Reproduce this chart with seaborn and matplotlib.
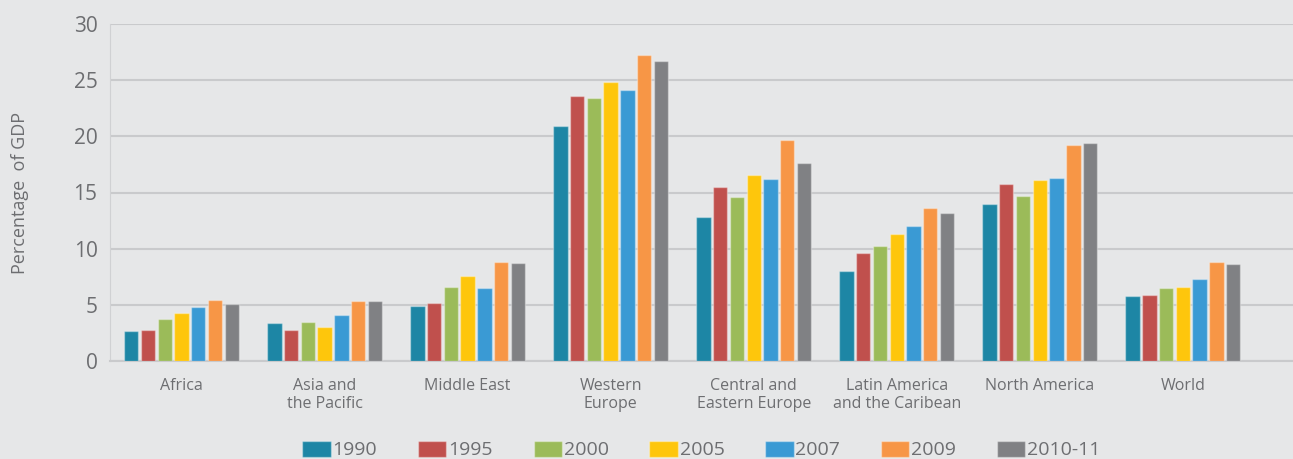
import pandas as pd
import matplotlib.pyplot as plt
import seaborn as sns

# Valori (percentuale del PIL)
regions = ["Africa", "Asia and\nthe Pacific", "Middle East", "Western\nEurope",
           "Central and\nEastern Europe", "Latin America\nand the Caribean",
           "North America", "World"]
years = ["1990", "1995", "2000", "2005", "2007", "2009", "2010-11"]

v1990 = [2.7, 3.4, 4.9, 20.9, 12.8, 8.0, 14.0, 5.8]
v1995 = [2.8, 2.8, 5.2, 23.6, 15.5, 9.6, 15.8, 5.9]
v2000 = [3.7, 3.5, 6.6, 23.4, 14.6, 10.2, 14.7, 6.5]
v2005 = [4.3, 3.0, 7.6, 24.8, 16.6, 11.3, 16.1, 6.6]
v2007 = [4.8, 4.1, 6.5, 24.1, 16.2, 12.0, 16.3, 7.3]
v2009 = [5.4, 5.3, 8.8, 27.2, 19.7, 13.6, 19.2, 8.8]
v2010 = [5.1, 5.3, 8.7, 26.7, 17.6, 13.2, 19.4, 8.6]

colori = ["#1D86A5", "#C0504D", "#9BBB59", "#FEC60C", "#3A9AD4", "#F79646", "#808184"]

serie = [v1990, v1995, v2000, v2005, v2007, v2009, v2010]
righe = []
for anno, valori in zip(years, serie):
    for reg, v in zip(regions, valori):
        righe.append({"region": reg, "year": anno, "value": v})
df = pd.DataFrame(righe)

bg = "#E6E7E8"
grigio = "#6D6E71"

sns.set_style("white")
plt.rcParams["font.family"] = ["Open Sans", "DejaVu Sans"]

fig = plt.figure(figsize=(12.93, 4.59), dpi=100, facecolor=bg)
ax = fig.add_axes([110 / 1293, 1 - 361 / 459, 1 - 110 / 1293, 337 / 459])
ax.set_facecolor(bg)

sns.barplot(data=df, x="region", y="value", hue="year", palette=colori,
            order=regions, hue_order=years, width=0.82, gap=0.14,
            saturation=1, edgecolor=(1, 1, 1, 0.35), linewidth=1,
            ax=ax, zorder=3)

ax.set_xlim(-0.5, 7.77)
ax.set_ylim(0, 30)
ax.set_yticks(range(0, 31, 5))
ax.yaxis.grid(True, color="#C9CACC", linewidth=1.5, zorder=0)
ax.set_axisbelow(True)

for s in ["top", "right"]:
    ax.spines[s].set_visible(False)
ax.spines["left"].set_color("#D0D1D3")
ax.spines["bottom"].set_color("#C9CACC")
ax.spines["bottom"].set_linewidth(1.5)

ax.tick_params(axis="y", length=0, pad=9, labelsize=15, labelcolor=grigio)
ax.tick_params(axis="x", length=0, pad=12, labelsize=11.5, labelcolor=grigio)
ax.set_xlabel("")
ax.set_ylabel("Percentage  of GDP", fontsize=13, color=grigio, labelpad=32)

# legenda in basso, come nell'originale
ax.get_legend().remove()
handles, labels = ax.get_legend_handles_labels()
leg = fig.legend(handles[:7], labels[:7], loc="lower center",
                 bbox_to_anchor=(0.5 + 55 / 1293, -0.018), ncol=7,
                 frameon=False, handlelength=1.45, handleheight=0.85,
                 handletextpad=0.1, columnspacing=2.1, borderaxespad=0,
                 prop={"size": 14})
for t in leg.get_texts():
    t.set_color(grigio)

fig.savefig("out.png", dpi=100, facecolor=bg)
